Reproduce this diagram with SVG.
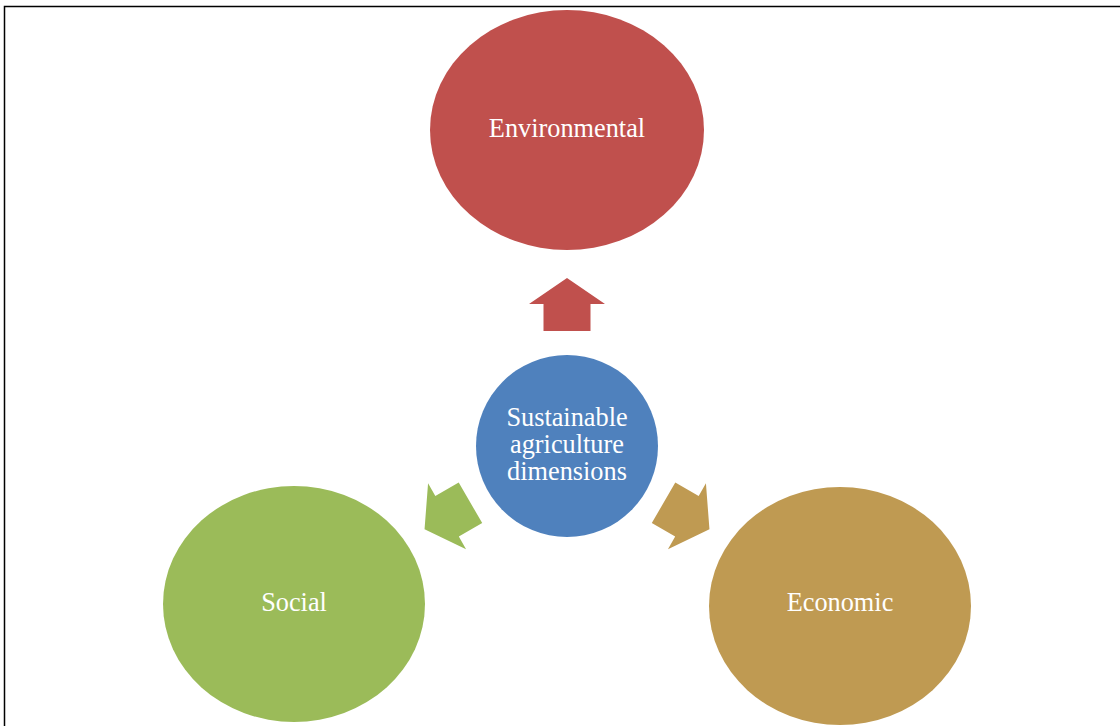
<svg xmlns="http://www.w3.org/2000/svg" width="1120" height="726" viewBox="0 0 1120 726">
  <style>
    .lbl { font-family: "Liberation Serif", "Times New Roman", serif; font-size: 26.3px; fill: #ffffff; text-anchor: middle; }
    .frame { fill: none; stroke: #000000; stroke-width: 1.5; }
  </style>
  <defs>
    <path id="blockArrow" d="M0,-26.5 L38,-0.5 L23.5,-0.5 L23.5,26.5 L-23.5,26.5 L-23.5,-0.5 L-38,-0.5 Z"/>
  </defs>
  <rect width="1120" height="726" fill="#ffffff"/>
  <path class="frame" d="M4.5,726 L4.5,6.5 L1120,6.5"/>

  <g id="connectors">
    <use href="#blockArrow" fill="#C0504D" transform="translate(567,304.5)"/>
    <use href="#blockArrow" fill="#9BBB59" transform="translate(447.5,516) rotate(-120)"/>
    <use href="#blockArrow" fill="#BF9A52" transform="translate(686.5,516) rotate(120)"/>
  </g>

  <g id="environmental">
    <ellipse cx="567" cy="130" rx="137" ry="120" fill="#C0504D"/>
    <text class="lbl" x="567" y="137">Environmental</text>
  </g>

  <g id="center">
    <circle cx="567" cy="446" r="91" fill="#4F81BD"/>
    <text class="lbl" x="567" y="426">Sustainable</text>
    <text class="lbl" x="567" y="453">agriculture</text>
    <text class="lbl" x="567" y="480">dimensions</text>
  </g>

  <g id="social">
    <ellipse cx="294" cy="604" rx="131" ry="118" fill="#9BBB59"/>
    <text class="lbl" x="294" y="611">Social</text>
  </g>

  <g id="economic">
    <ellipse cx="840" cy="606" rx="131" ry="119" fill="#BF9A52"/>
    <text class="lbl" x="840" y="611">Economic</text>
  </g>
</svg>
